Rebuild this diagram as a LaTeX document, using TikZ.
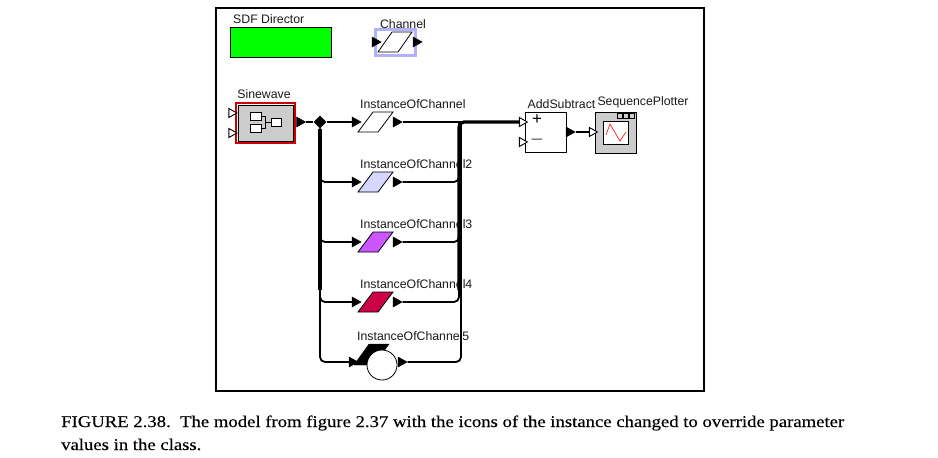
\documentclass[tikz,border=0pt]{standalone}
\usepackage{fontspec}
\setmainfont{Liberation Serif}
\setsansfont{Liberation Sans}
\newfontfamily\capfont[FakeStretch=1.14,FakeBold=0.25]{Liberation Serif}
\usepackage{xcolor}
\usepackage{tikz}
\usetikzlibrary{positioning,shapes.geometric,calc}
\definecolor{dirgreen}{RGB}{0,255,0}
\definecolor{chanlav}{RGB}{178,178,250}
\definecolor{instlav}{RGB}{214,214,255}
\definecolor{instpurple}{RGB}{204,85,255}
\definecolor{instred}{RGB}{204,0,68}
\definecolor{iconsilver}{RGB}{204,204,204}

\begin{document}
\begin{tikzpicture}[
        x=1pt, y=-1pt,
        lab/.style={font=\sffamily\fontsize{12.3}{13}\selectfont, color=black!90, inner sep=0pt},
        captext/.style={font=\capfont\fontsize{16.4}{18}\selectfont, anchor=base west, inner sep=0pt},
        box/.style={draw=black, line width=0.9pt, minimum width=#1, inner sep=0pt},
        para/.style={draw=black, line width=0.8pt, fill=white},
        outport/.style={isosceles triangle, isosceles triangle stretches, draw=black, fill=black, line width=0.5pt,
          minimum width=10pt, minimum height=9pt, inner sep=0pt},
        inport/.style={outport, fill=white, line width=0.9pt, minimum width=9pt, minimum height=8pt},
        wire/.style={line width=1.8pt, rounded corners=5pt},
        bus/.style={line width=3.2pt, rounded corners=5pt}
      ]
        \useasboundingbox (0,0) rectangle (938,458);
        \node[draw=black, line width=2pt, minimum width=488pt, minimum height=383pt, inner sep=0pt] (frame) at (459.5,199) {};
        % attributes at the top
        \node[box=101pt, fill=dirgreen, minimum height=30pt] (director) at (280.5,42) {};
        \node[lab, anchor=west] (directorlab) at (233,19) {SDF Director};
        \node[draw=chanlav, line width=3.6pt, fill=white, minimum width=40pt, minimum height=26pt, inner sep=0pt] (chanbox) at (395.5,42.5) {};
        \draw[para] (378,52) -- ++(14,-20) -- ++(20,0) -- ++(-14,20) -- cycle;
        \node[outport] (chanin) at (375,42) {};
        \node[outport] (chanout) at (416,42) {};
        \node[lab] (chanlab) at (403,24) {Channel};
        % source
        \node[draw=red!80!black, line width=1.6pt, minimum width=59pt, minimum height=40pt, inner sep=0pt] (sineouter) at (265.5,123) {};
        \node[draw=black, line width=0.9pt, fill=iconsilver, minimum width=55pt, minimum height=36pt, inner sep=0pt] (sine) at (265.5,123) {};
        \node[draw=black, line width=0.8pt, fill=white, minimum width=11pt, minimum height=8pt, inner sep=0pt] (sineA) at (255.5,116.5) {};
        \node[draw=black, line width=0.8pt, fill=white, minimum width=11pt, minimum height=8pt, inner sep=0pt] (sineB) at (255.5,128) {};
        \node[draw=black, line width=0.8pt, fill=white, minimum width=10pt, minimum height=8pt, inner sep=0pt] (sineC) at (276,122.5) {};
        \coordinate (sinemid) at (265,122.5);
        \draw[line width=0.6pt] (sineA.east) -| (sinemid);
        \draw[line width=0.6pt] (sineB.east) -| (sinemid);
        \draw[line width=0.6pt] (sinemid) -- (sineC.west);
        \node[inport] (sinein1) at (231.5,113) {};
        \node[inport] (sinein2) at (231.5,133) {};
        \node[outport] (sineout) at (299.5,122) {};
        \node[lab] (sinelab) at (264,94) {Sinewave};
        \node[diamond, fill=black, minimum width=13pt, minimum height=13pt, inner sep=0pt] (split) at (320,122) {};
        % instances
        \draw[para] (358,132) -- ++(15,-20) -- ++(20,0) -- ++(-15,20) -- cycle;
        \draw[para, fill=instlav] (358,192) -- ++(15,-20) -- ++(20,0) -- ++(-15,20) -- cycle;
        \draw[para, fill=instpurple] (358,252) -- ++(15,-20) -- ++(20,0) -- ++(-15,20) -- cycle;
        \draw[para, fill=instred] (358,312) -- ++(15,-20) -- ++(20,0) -- ++(-15,20) -- cycle;
        \draw[fill=black] (354,365) -- (369,344) -- (389,344) -- (374,365) -- cycle;
        \node[circle, draw=black, line width=0.8pt, fill=white, minimum size=30pt, inner sep=0pt] (inst5) at (382,365) {};
        \node[outport] (in1) at (355,122) {};
        \node[outport] (in2) at (355,182) {};
        \node[outport] (in3) at (355,242) {};
        \node[outport] (in4) at (355,302) {};
        \node[outport] (in5) at (352,362) {};
        \node[outport] (out1) at (396,122) {};
        \node[outport] (out2) at (396,182) {};
        \node[outport] (out3) at (396,242) {};
        \node[outport] (out4) at (396,302) {};
        \node[outport] (out5) at (401,362) {};
        \node[lab, anchor=west] (instlab1) at (360,104) {InstanceOfChannel};
        \node[lab, anchor=west] (instlab2) at (360,164) {InstanceOfChannel2};
        \node[lab, anchor=west] (instlab3) at (360,224) {InstanceOfChannel3};
        \node[lab, anchor=west] (instlab4) at (360,284) {InstanceOfChannel4};
        \node[lab, anchor=west] (instlab5) at (357,336) {InstanceOfChannel5};
        % actors on the right
        \node[box=41pt, fill=white, minimum height=40pt] (add) at (545.5,132) {};
        \node[inport] (addin1) at (522,122) {};
        \node[inport] (addin2) at (522,142) {};
        \node[outport] (addout) at (569,132) {};
        \node[font=\sffamily\fontsize{17}{17}\selectfont, inner sep=0pt] (plus) at (537,120) {+};
        \node[font=\sffamily\fontsize{19}{19}\selectfont, color=black!60, inner sep=0pt] (minus) at (537,142) {--};
        \node[lab] (addlab) at (561.5,104) {AddSubtract};
        \node[box=41pt, fill=iconsilver, minimum height=41pt] (plotter) at (615.5,132.5) {};
        \node[draw=black, line width=0.8pt, fill=white, minimum width=25pt, minimum height=23pt, inner sep=0pt] (screen) at (615.5,132.5) {};
        \node[draw=black, line width=0.6pt, fill=iconsilver, minimum size=5pt, inner sep=0pt] (btnA) at (619.5,116) {};
        \node[draw=black, line width=0.6pt, fill=iconsilver, minimum size=5pt, inner sep=0pt] (btnB) at (625.5,116) {};
        \node[draw=black, line width=0.6pt, fill=iconsilver, minimum size=5pt, inner sep=0pt] (btnC) at (631.5,116) {};
        \draw[red, line width=0.6pt] (606,135) -- (610,124) -- (620,141) -- (626,132);
        \node[inport] (plotin) at (592,132) {};
        \node[lab] (plotlab) at (643,102) {SequencePlotter};
        % connectors
        \coordinate (splitbot) at (320,290);
        \coordinate (mergetop) at (459,122);
        \coordinate (mergebot) at (459,290);
        \draw[wire] (sineout.apex) -- (split.west);
        \draw[wire] (split.east) -- (in1.west);
        \draw[wire] (split.south) |- (in2.west);
        \draw[wire] (split.south) |- (in3.west);
        \draw[wire] (split.south) |- (in4.west);
        \draw[wire] (split.south) |- (in5.west);
        \draw[bus] (split.south) -- (splitbot);
        \draw[wire] (out1.apex) -- (addin1.west);
        \draw[wire] (out2.apex) -| (mergetop);
        \draw[wire] (out3.apex) -| (mergetop);
        \draw[wire] (out4.apex) -| (mergetop);
        \draw[wire] (out5.apex) -| ($(mergetop)+(2,0)$);
        \draw[bus] (mergebot) |- (addin1.west);
        \draw[wire] (addout.apex) -- (plotin.west);
        % caption
        \node[captext] (caption1) at (61,427) {FIGURE 2.38.\ \ The model from figure 2.37 with the icons of the instance changed to override parameter};
        \node[captext] (caption2) at (61,450) {values in the class.};
      \end{tikzpicture}
\end{document}
